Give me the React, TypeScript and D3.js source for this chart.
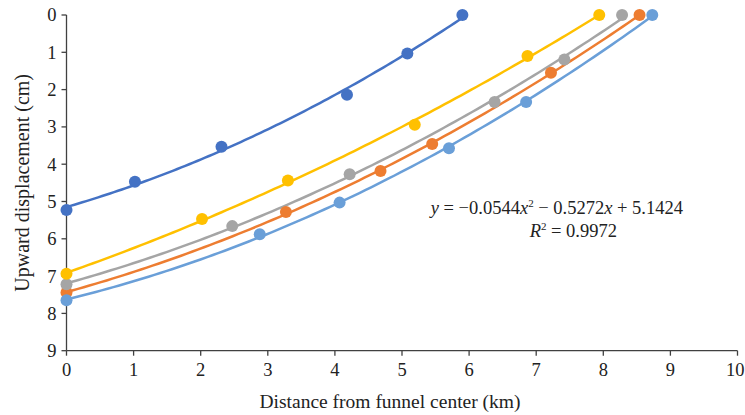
import React from "react";
import * as d3 from "d3";

const xTicks = [0, 1, 2, 3, 4, 5, 6, 7, 8, 9, 10];
const yTicks = [0, 1, 2, 3, 4, 5, 6, 7, 8, 9];

const seriesNames = ["S1", "S2", "S3", "S4", "S5"];
const seriesColors = ["#4472C4", "#ED7D31", "#A5A5A5", "#FFC000", "#6A9FD8"];

const s1X = [0, 1.02, 2.31, 4.18, 5.08, 5.9];
const s1Y = [5.23, 4.47, 3.53, 2.14, 1.03, 0.0];
const s2X = [0, 3.27, 4.68, 5.45, 7.22, 8.54];
const s2Y = [7.44, 5.28, 4.18, 3.46, 1.55, 0.0];
const s3X = [0, 2.47, 4.22, 6.38, 7.42, 8.28];
const s3Y = [7.22, 5.66, 4.27, 2.33, 1.19, 0.0];
const s4X = [0, 2.02, 3.3, 5.19, 6.87, 7.94];
const s4Y = [6.94, 5.47, 4.44, 2.94, 1.1, 0.0];
const s5X = [0, 2.88, 4.07, 5.7, 6.85, 8.73];
const s5Y = [7.65, 5.88, 5.03, 3.57, 2.33, 0.0];

const allX = [s1X, s2X, s3X, s4X, s5X];
const allY = [s1Y, s2Y, s3Y, s4Y, s5Y];

const equationText = "0.0544";

function quadFit(xs: number[], ys: number[]) {
  let s0 = 0, s1 = 0, s2 = 0, s3 = 0, s4 = 0, t0 = 0, t1 = 0, t2 = 0;
  xs.forEach((x, i) => {
    const y = ys[i];
    s0 += 1; s1 += x; s2 += x * x; s3 += x * x * x; s4 += x * x * x * x;
    t0 += y; t1 += x * y; t2 += x * x * y;
  });
  const M = [
    [s4, s3, s2, t2],
    [s3, s2, s1, t1],
    [s2, s1, s0, t0],
  ];
  for (let i = 0; i < 3; i++) {
    let p = i;
    for (let r = i + 1; r < 3; r++) if (Math.abs(M[r][i]) > Math.abs(M[p][i])) p = r;
    [M[i], M[p]] = [M[p], M[i]];
    for (let r = 0; r < 3; r++) {
      if (r === i) continue;
      const f = M[r][i] / M[i][i];
      for (let c = i; c < 4; c++) M[r][c] -= f * M[i][c];
    }
  }
  return [M[0][3] / M[0][0], M[1][3] / M[1][1], M[2][3] / M[2][2]];
}

export default function App() {
  const W = 745, H = 415;
  const x = d3.scaleLinear().domain([0, 10]).range([66.5, 737.5]);
  const y = d3.scaleLinear().domain([0, 9]).range([15, 350.7]);
  const axisColor = "#404040";
  const font = "'Liberation Serif', 'Times New Roman', serif";

  const line = d3.line<[number, number]>().x((d) => x(d[0])).y((d) => y(d[1]));

  const curves = allX.map((xs, i) => {
    const [a, b, c] = quadFit(xs, allY[i]);
    const xmax = d3.max(xs) as number;
    const pts: [number, number][] = d3.range(0, 101).map((k) => {
      const xv = (xmax * k) / 100;
      return [xv, a * xv * xv + b * xv + c];
    });
    return line(pts) || "";
  });

  return (
    <svg width={W} height={H} style={{ position: "absolute", left: 0, top: 0, background: "#fff" }}>
      <line x1={x(0)} x2={x(0)} y1={y(0)} y2={y(9)} stroke={axisColor} strokeWidth={1.3} />
      <line x1={x(0)} x2={x(10)} y1={y(9)} y2={y(9)} stroke={axisColor} strokeWidth={1.3} />
      {yTicks.map((t) => (
        <g key={"y" + t}>
          <line x1={x(0) - 5} x2={x(0)} y1={y(t)} y2={y(t)} stroke={axisColor} strokeWidth={1.3} />
          <text x={x(0) - 10} y={y(t)} dy="0.35em" textAnchor="end" fontFamily={font} fontSize={18.5} fill="#222">
            {t}
          </text>
        </g>
      ))}
      {xTicks.map((t, i) => {
        const last = i === xTicks.length - 1;
        return (
          <g key={"x" + t}>
            <line x1={x(t)} x2={x(t)} y1={y(9)} y2={y(9) + 5} stroke={axisColor} strokeWidth={1.3} />
            <text
              x={last ? W - 0.5 : x(t)}
              y={y(9) + 25}
              textAnchor={last ? "end" : "middle"}
              fontFamily={font}
              fontSize={18.5}
              fill="#222"
            >
              {t}
            </text>
          </g>
        );
      })}
      <text
        transform={`translate(29,${(y(0) + y(9)) / 2}) rotate(-90)`}
        textAnchor="middle"
        fontFamily={font}
        fontSize={20}
        fill="#222"
      >
        Upward displacement (cm)
      </text>
      <text x={390} y={408} textAnchor="middle" fontFamily={font} fontSize={19.5} fill="#222">
        Distance from funnel center (km)
      </text>

      {curves.map((d, i) => (
        <path key={"c" + i} d={d} fill="none" stroke={seriesColors[i]} strokeWidth={2.5} />
      ))}
      {allX.map((xs, i) =>
        xs.map((xv, j) => (
          <circle key={seriesNames[i] + j} cx={x(xv)} cy={y(allY[i][j])} r={6} fill={seriesColors[i]} />
        ))
      )}

      <text x={683} y={214} textAnchor="end" fontFamily={font} fontSize={18.5} fill="#222">
        <tspan fontStyle="italic">y</tspan>
        {" = \u2212" + equationText}
        <tspan fontStyle="italic">x</tspan>
        <tspan dy={-7} fontSize={11}>2</tspan>
        <tspan dy={7}>{" \u2212 0.5272"}</tspan>
        <tspan fontStyle="italic">x</tspan>
        {" + 5.1424"}
      </text>
      <text x={617} y={237} textAnchor="end" fontFamily={font} fontSize={18.5} fill="#222">
        <tspan fontStyle="italic">R</tspan>
        <tspan dy={-7} fontSize={11}>2</tspan>
        <tspan dy={7}>{" = 0.9972"}</tspan>
      </text>
    </svg>
  );
}
